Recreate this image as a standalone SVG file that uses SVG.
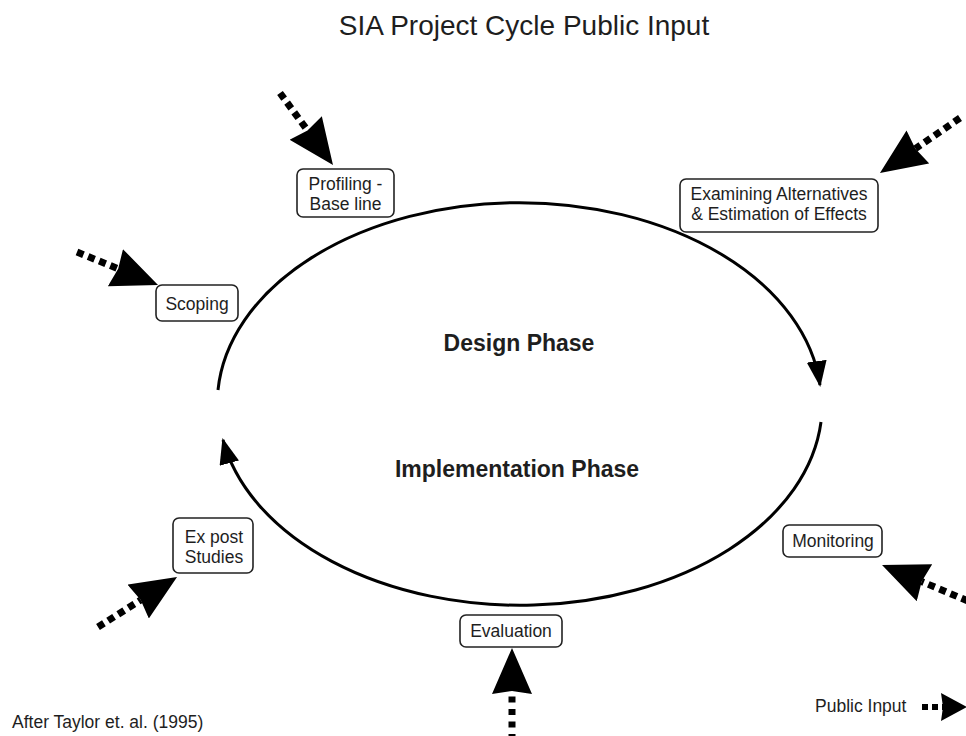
<svg xmlns="http://www.w3.org/2000/svg" width="966" height="736" viewBox="0 0 966 736">
<style>
text{font-family:"Liberation Sans",Arial,sans-serif;fill:#1e1e1e}
.lbl{font-size:17.5px;text-anchor:middle}
.box{fill:#fff;stroke:#222;stroke-width:1.6}
.phase{font-size:23px;font-weight:bold;text-anchor:middle}
.cycle{fill:none;stroke:#000;stroke-width:3}
.pi{fill:none;stroke:#000;stroke-width:7;stroke-dasharray:7 5}
</style>
<defs>
<marker id="cyc" markerUnits="userSpaceOnUse" markerWidth="30" markerHeight="24" refX="24" refY="10" orient="auto">
<path d="M0,0 L26,10 L0,20 z" fill="#000" stroke="none"/>
</marker>
<marker id="big" markerUnits="userSpaceOnUse" markerWidth="50" markerHeight="44" refX="3" refY="20" orient="auto">
<path d="M0,0 L46,20 L0,40 L3,20 z" fill="#000" stroke="none"/>
</marker>
<marker id="small" markerUnits="userSpaceOnUse" markerWidth="30" markerHeight="30" refX="2" refY="14" orient="auto">
<path d="M0,0 L26,14 L0,28 L2,14 z" fill="#000" stroke="none"/>
</marker>
</defs>
<rect width="966" height="736" fill="#fff"/>
<g id="title"><text x="524" y="35" font-size="28" text-anchor="middle">SIA Project Cycle Public Input</text></g>
<g id="connectors">
<path class="cycle" d="M218,390 A302,201 0 0 1 820,385" marker-end="url(#cyc)"/>
<path class="cycle" d="M821,422 A302,201 0 0 1 223,440" marker-end="url(#cyc)"/>
<path class="pi" d="M280,93 L307.5,130.4" marker-end="url(#big)"/>
<path class="pi" d="M960,118 L915.4,148.7" marker-end="url(#big)"/>
<path class="pi" d="M77,252 L118.2,268.8" marker-end="url(#big)"/>
<path class="pi" d="M968,601 L921.7,581.6" marker-end="url(#big)"/>
<path class="pi" d="M98,627 L140.7,600" marker-end="url(#big)"/>
<path class="pi" d="M512,740 L512,691" style="stroke-dasharray:6 6.5" marker-end="url(#big)"/>
</g>
<g id="design-phase"><text class="phase" x="519" y="351">Design Phase</text></g>
<g id="implementation-phase"><text class="phase" x="517" y="477">Implementation Phase</text></g>
<g id="profiling"><rect class="box" x="297" y="169" width="97" height="48" rx="6"/><text class="lbl" x="345.5" y="190">Profiling -</text><text class="lbl" x="345.5" y="210">Base line</text></g>
<g id="examining"><rect class="box" x="680" y="179" width="198" height="53" rx="6"/><text class="lbl" x="779" y="200">Examining Alternatives</text><text class="lbl" x="779" y="220">&amp; Estimation of Effects</text></g>
<g id="scoping"><rect class="box" x="156" y="285" width="82" height="36" rx="6"/><text class="lbl" x="197" y="310">Scoping</text></g>
<g id="monitoring"><rect class="box" x="783" y="525" width="99" height="32" rx="6"/><text class="lbl" x="833" y="547">Monitoring</text></g>
<g id="expost"><rect class="box" x="173" y="518" width="80" height="55" rx="6"/><text class="lbl" x="214" y="543">Ex post</text><text class="lbl" x="214" y="563">Studies</text></g>
<g id="evaluation"><rect class="box" x="460" y="615" width="102" height="32" rx="6"/><text class="lbl" x="511" y="637">Evaluation</text></g>
<g id="legend"><text x="815" y="712" font-size="17.5">Public Input</text><path class="pi" d="M922,707 L943,707" style="stroke-width:6;stroke-dasharray:6 4" marker-end="url(#small)"/></g>
<g id="credit"><text x="12" y="728" font-size="17.5">After Taylor et. al. (1995)</text></g>
</svg>
